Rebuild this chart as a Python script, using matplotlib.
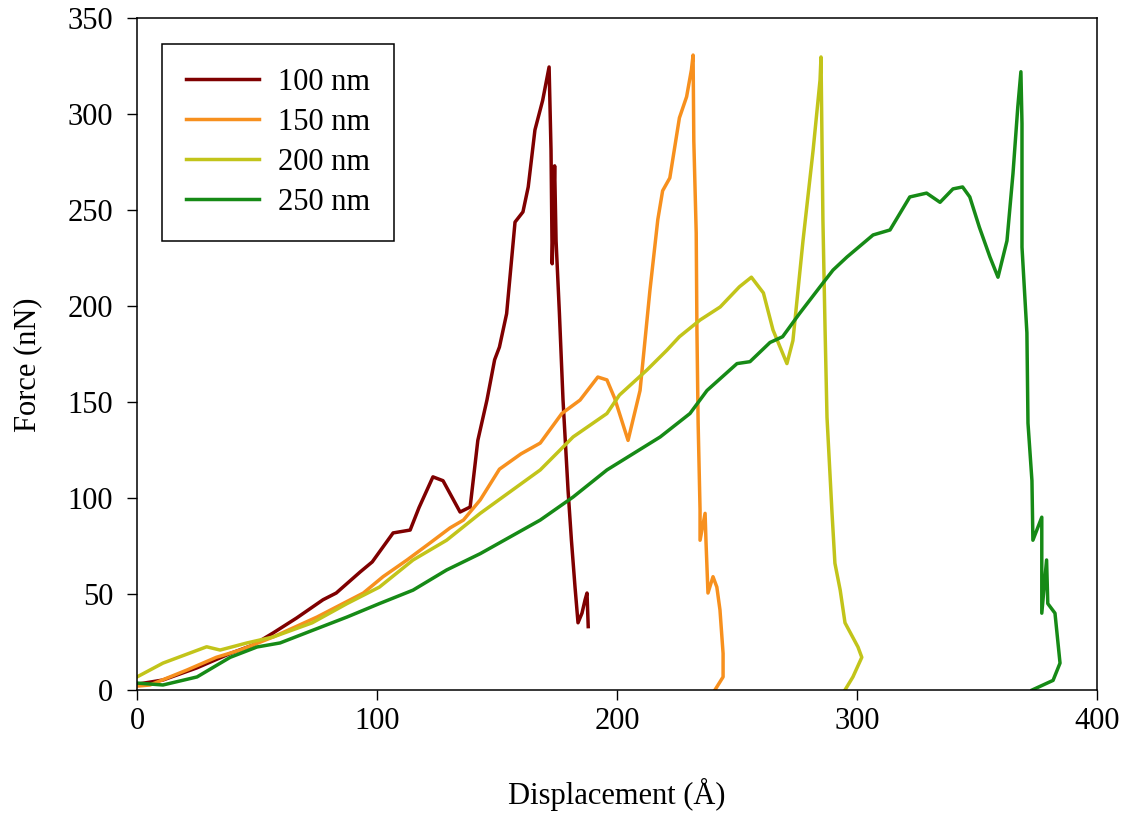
import matplotlib
matplotlib.use("Agg")
import matplotlib.pyplot as plt

plt.rcParams['font.family'] = ['Liberation Serif', 'DejaVu Serif']

labels = ["100 nm", "150 nm", "200 nm", "250 nm"]
colors = ["#7f0000", "#f7901e", "#c2c41a", "#168a16"]

x100 = [0, 10.8, 24.9, 38.8, 48.3, 56.7, 66.5, 77.5, 83, 93, 98, 106.7, 113.8, 117.5, 123.3, 127.5,
        134.6, 138.8, 142, 145.8, 149, 151, 154, 157.5, 160.8, 163, 165.8, 169, 171.7, 172.5, 173,
        174, 174.6, 176, 177.5, 179.6, 181, 182.5, 183.75, 185.4, 186.7, 187.5, 188]
y100 = [3, 5.2, 11.5, 19, 23.4, 29.7, 37.5, 47, 50.5, 61.5, 66.7, 81.8, 83.3, 95, 111, 109,
        92.7, 95.3, 130, 151, 172, 178.6, 196, 243.7, 249, 262, 291.7, 307, 324.5, 281, 222,
        273, 234, 196, 151, 104, 78, 53.6, 35, 40, 47, 50.5, 33]

x150 = [0, 5.4, 20.8, 33, 43, 56.7, 75, 94.3, 102.5, 112.5, 122, 130.4, 136, 143, 151, 160, 168,
        177, 184.6, 192, 195.8, 199, 204.6, 209.6, 213.7, 217, 219, 222, 226, 229, 231, 231.7,
        232, 232.5, 233, 233.3, 233.8, 234.6, 234.6, 236.7, 237.1, 237.9, 240, 241.6, 242.9,
        244.2, 244.2, 240.8]
y150 = [2, 2.6, 10.4, 17, 20.8, 27.6, 38, 50.5, 59, 67.7, 76.5, 84.4, 88.5, 99, 115, 123, 128.6,
        144, 151, 163, 161.5, 152, 130, 156, 208, 245, 260, 266.7, 298, 309, 323, 330.7,
        286, 262, 238, 187.5, 139, 93.75, 78, 92, 76.5, 50.5, 59, 53.6, 41.7,
        19, 6.8, 0]

x200 = [0, 10.8, 29, 34.6, 45.8, 56.7, 73, 87.5, 101, 115, 129, 143, 168, 181.7, 195.8, 201,
        212.5, 220.8, 226, 234.6, 243, 251, 256, 261, 265, 270.8, 273.3, 277.5, 281.7, 284.6,
        285, 285.8, 286.7, 287.5, 289.6, 290.8, 293, 295, 300.4, 302, 298.3, 295]
y200 = [6.8, 14, 22.5, 20.8, 24.5, 27.6, 35, 45, 53.6, 67.7, 78, 92, 114.6, 131.8, 144, 153.6,
        166.7, 177, 184, 192.7, 199.5, 210, 215, 206.8, 187.5, 170, 182, 234, 281, 317.7,
        329.7, 244.8, 187.5, 142, 92, 66, 52, 35, 22.4, 17, 6.8, 0]

x250 = [0, 10.8, 25, 38.8, 50, 59.6, 73, 87.5, 101, 115, 129, 143, 168, 181.7, 195.8, 218, 230.4,
        237.5, 250, 255.4, 263.75, 269, 276, 284.6, 290, 295.8, 306.7, 313.75, 322, 329, 334.6,
        340, 344, 347, 351, 355.4, 358.75, 362.5, 365, 367, 368.3, 368.75, 368.75, 370.8,
        371.25, 372.9, 373.3, 377, 377, 379, 379.5, 382.5, 384.6, 381.7, 373]
y250 = [3.6, 2.6, 6.8, 17, 22.4, 24.5, 31, 38, 45, 52, 62.5, 71, 88.5, 100.5, 114.6, 131.8, 144,
        156, 170, 171, 181, 184, 196, 210, 218.7, 225.5, 237, 239.6, 256.8, 258.8, 254,
        261, 262, 256.8, 241, 225.5, 215, 234, 269, 303.6, 322, 295, 230.7, 186,
        139, 109, 78, 90, 40, 67.7, 45, 40, 14, 5, 0]

xticks = [0, 100, 200, 300, 400]
yticks = [0, 50, 100, 150, 200, 250, 300, 350]

fig = plt.figure(figsize=(11.28, 8.15), dpi=100)
ax = fig.add_axes([0.1215, 0.1534, 0.851, 0.8245])

series = [(x100, y100), (x150, y150), (x200, y200), (x250, y250)]
for (xs, ys), lab, col in zip(series, labels, colors):
    ax.plot(xs, ys, color=col, lw=2.5, label=lab, solid_joinstyle='round')

ax.set_xlim(0, 400)
ax.set_ylim(0, 350)
ax.set_xticks(xticks)
ax.set_yticks(yticks)
ax.tick_params(axis='both', direction='out', length=7.2, width=1.0, labelsize=22, color='black')
ax.tick_params(axis='x', pad=5)
ax.tick_params(axis='y', pad=10)
for s in ax.spines.values():
    s.set_linewidth(1.1)
    s.set_color('black')

ax.set_xlabel("Displacement (Å)", fontsize=22)
ax.set_ylabel("Force (nN)", fontsize=22)
ax.xaxis.set_label_coords(0.5, -0.131)
ax.yaxis.set_label_coords(-0.099, 0.484)

leg = ax.legend(loc='upper left', bbox_to_anchor=(0.026, 0.961), borderaxespad=0,
                fontsize=22, frameon=True, fancybox=False, handlelength=2.39,
                handletextpad=0.62, labelspacing=0.36, borderpad=0.78)
leg.get_frame().set_edgecolor('black')
leg.get_frame().set_linewidth(1.1)
leg.get_frame().set_alpha(1)

fig.savefig("out.png", dpi=100)
